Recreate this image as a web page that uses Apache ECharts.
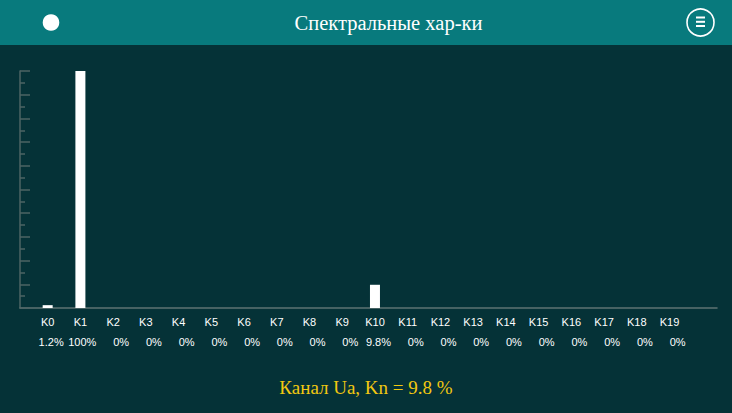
<!DOCTYPE html>
<html>
<head>
<meta charset="utf-8">
<script src="https://cdn.jsdelivr.net/npm/echarts@6/dist/echarts.min.js"></script>
<style>
html,body{margin:0;padding:0;background:#053237;}
#chart{width:732px;height:413px;}
</style>
</head>
<body>
<div id="chart"></div>
<script>
var categories = ['K0','K1','K2','K3','K4','K5','K6','K7','K8','K9','K10','K11','K12','K13','K14','K15','K16','K17','K18','K19'];
var values = [1.2,100,0,0,0,0,0,0,0,0,9.8,0,0,0,0,0,0,0,0,0];
var yTicks = {min:0, max:100, interval:10};
var titleText = 'Спектральные хар-ки';
var footerText = 'Канал Ua, Kn = 9.8 %';

var chart = echarts.init(document.getElementById('chart'), null, {renderer:'svg'});
var axisGrey = '#4d6464';
chart.setOption({
  backgroundColor:'#053237',
  animation:false,
  grid:[
    {left:20, right:15, top:71, bottom:105},
    {left:31.3, width:654.6, top:71, bottom:105}
  ],
  xAxis:[
    {type:'value', gridIndex:0, min:0, max:1, splitLine:{show:false}, axisTick:{show:false}, axisLabel:{show:false},
     axisLine:{show:true, lineStyle:{color:'#5d7373', width:1.5}}},
    {type:'category', gridIndex:1, data:categories, axisLine:{show:false}, axisTick:{show:false},
     axisLabel:{interval:0, margin:4, color:'#ffffff',
       formatter:function(v, i){ return '{k|'+v+'}\n{p|'+values[i]+'%}'; },
       rich:{
         k:{fontFamily:'Liberation Sans', fontSize:11, color:'#ffffff', lineHeight:20, width:32, align:'center'},
         p:{fontFamily:'Liberation Sans', fontSize:11, color:'#ffffff', lineHeight:20, width:32, align:'right'}
       }}}
  ],
  yAxis:[
    {type:'value', gridIndex:0, min:yTicks.min, max:yTicks.max, interval:yTicks.interval,
     axisLine:{show:true, lineStyle:{color:axisGrey, width:1.5}},
     axisTick:{show:true, inside:true, length:10, lineStyle:{color:axisGrey, width:1.5}},
     minorTick:{show:true, splitNumber:2, length:5, lineStyle:{color:axisGrey, width:1.5}},
     axisLabel:{show:false}, splitLine:{show:false}},
    {type:'value', gridIndex:1, min:yTicks.min, max:yTicks.max, show:false, splitLine:{show:false}}
  ],
  series:[{
    type:'bar', xAxisIndex:1, yAxisIndex:1, data:values, barWidth:10,
    itemStyle:{color:'#ffffff', borderWidth:0}
  }],
  graphic:[
    {type:'rect', shape:{x:0, y:0, width:732, height:45}, style:{fill:'#087a7d'}, z:0},
    {type:'circle', shape:{cx:51, cy:22.5, r:8.3}, style:{fill:'#ffffff'}, z:1},
    {type:'circle', shape:{cx:700.5, cy:22.5, r:13.5}, style:{fill:'none', stroke:'#ffffff', lineWidth:1.6}, z:1},
    {type:'line', shape:{x1:696, y1:17.5, x2:705, y2:17.5}, style:{stroke:'#ffffff', lineWidth:2}, z:1},
    {type:'line', shape:{x1:696, y1:21.8, x2:705, y2:21.8}, style:{stroke:'#ffffff', lineWidth:2}, z:1},
    {type:'line', shape:{x1:696, y1:26, x2:705, y2:26}, style:{stroke:'#ffffff', lineWidth:2}, z:1},
    {type:'text', x:388.5, y:23, z:1, style:{text:titleText, fill:'#ffffff', font:'20.5px "Liberation Serif"', align:'center', verticalAlign:'middle'}},
    {type:'text', x:366, y:387, z:1, style:{text:footerText, fill:'#f2c811', font:'19px "Liberation Serif"', align:'center', verticalAlign:'middle'}}
  ]
});
</script>
</body>
</html>
